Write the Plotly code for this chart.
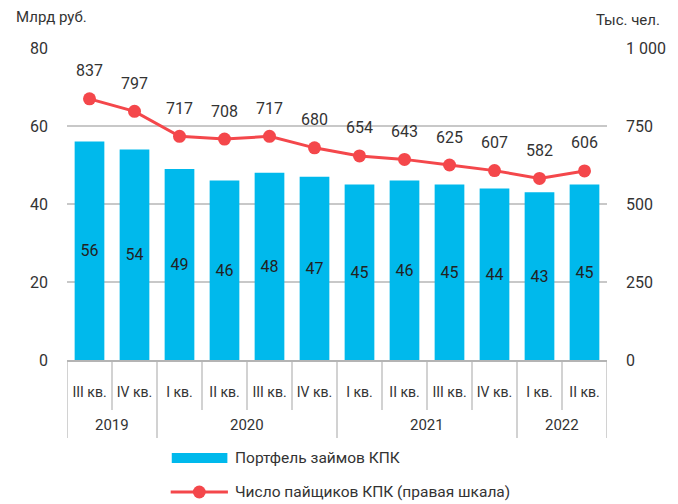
import plotly.graph_objects as go

# Quarterly data on credit consumer cooperatives (КПК)
years = ["2019", "2019", "2020", "2020", "2020", "2020",
         "2021", "2021", "2021", "2021", "2022", "2022"]
quarters = ["III кв.", "IV кв.", "I кв.", "II кв.", "III кв.", "IV кв.",
            "I кв.", "II кв.", "III кв.", "IV кв.", "I кв.", "II кв."]
loan_portfolio = [56, 54, 49, 46, 48, 47, 45, 46, 45, 44, 43, 45]          # bn rub
members = [837, 797, 717, 708, 717, 680, 654, 643, 625, 607, 582, 606]     # thousand people

left_ticks = [0, 20, 40, 60, 80]
right_ticks = [0, 250, 500, 750, 1000]
right_tick_text = ["0", "250", "500", "750", "1 000"]

BAR_COLOR = "#00B9EC"
LINE_COLOR = "#F4474B"
TEXT_COLOR = "#333333"
GRID_COLOR = "#C8C8C8"
AXIS_COLOR = "#B4B4B4"
FONT = "Roboto"

pos = list(range(len(quarters)))

fig = go.Figure()

fig.add_trace(go.Bar(
    x=pos, y=loan_portfolio,
    marker=dict(color=BAR_COLOR, line=dict(width=0)),
    text=[str(v) for v in loan_portfolio],
    textposition="inside", insidetextanchor="middle",
    textfont=dict(size=16, color="#222222", family=FONT),
    name="Портфель займов КПК",
))

fig.add_trace(go.Scatter(
    x=pos, y=members, yaxis="y2",
    mode="lines+markers",
    line=dict(color=LINE_COLOR, width=3),
    marker=dict(color=LINE_COLOR, size=13),
    name="Число пайщиков КПК (правая шкала)",
))

# value labels above the line points
for p, v in zip(pos, members):
    fig.add_annotation(
        x=p, y=v, yref="y2", text=str(v), showarrow=False,
        yshift=28, font=dict(size=16, color=TEXT_COLOR, family=FONT),
    )

# two-level category axis: quarter separators and year groups
Y_AXIS = 0
Y_QTR_SEP = -0.160
Y_YEAR_SEP = -0.250
groups = []
for i, yr in enumerate(years):
    if not groups or groups[-1][0] != yr:
        groups.append([yr, i, i])
    else:
        groups[-1][2] = i

for yr, start, end in groups:
    fig.add_shape(type="line", xref="x", yref="paper",
                  x0=start - 0.5, x1=start - 0.5, y0=Y_AXIS, y1=Y_YEAR_SEP,
                  line=dict(color=AXIS_COLOR, width=1.2))
    for i in range(start + 1, end + 1):
        fig.add_shape(type="line", xref="x", yref="paper",
                      x0=i - 0.5, x1=i - 0.5, y0=Y_AXIS, y1=Y_QTR_SEP,
                      line=dict(color=AXIS_COLOR, width=1.2))
    fig.add_annotation(x=(start + end) / 2, y=-0.208, xref="x", yref="paper",
                       text=yr, showarrow=False, yanchor="middle",
                       font=dict(size=15, color=TEXT_COLOR, family=FONT))
fig.add_shape(type="line", xref="x", yref="paper",
              x0=len(pos) - 0.5, x1=len(pos) - 0.5, y0=Y_AXIS, y1=Y_YEAR_SEP,
              line=dict(color=AXIS_COLOR, width=1.2))

# axis titles
fig.add_annotation(x=-0.099, y=1.099, xref="paper", yref="paper", text="Млрд руб.",
                   showarrow=False, xanchor="left", yanchor="middle",
                   font=dict(size=15, color=TEXT_COLOR, family=FONT))
fig.add_annotation(x=1.101, y=1.09, xref="paper", yref="paper", text="Тыс. чел.",
                   showarrow=False, xanchor="right", yanchor="middle",
                   font=dict(size=15, color=TEXT_COLOR, family=FONT))

# legend below the axis
fig.add_shape(type="rect", xref="paper", yref="paper",
              x0=0.194, x1=0.297, y0=-0.330, y1=-0.298,
              fillcolor=BAR_COLOR, line=dict(width=0))
fig.add_annotation(x=0.307, y=-0.314, xref="paper", yref="paper",
                   text="Портфель займов КПК", showarrow=False,
                   xanchor="left", yanchor="middle",
                   font=dict(size=15.5, color=TEXT_COLOR, family=FONT))
fig.add_shape(type="line", xref="paper", yref="paper",
              x0=0.192, x1=0.298, y0=-0.423, y1=-0.423,
              line=dict(color=LINE_COLOR, width=3))
fig.add_shape(type="circle", xref="paper", yref="paper",
              x0=0.245 - 6.5 / 546, x1=0.245 + 6.5 / 546,
              y0=-0.423 - 6.5 / 312, y1=-0.423 + 6.5 / 312,
              fillcolor=LINE_COLOR, line=dict(width=0))
fig.add_annotation(x=0.307, y=-0.423, xref="paper", yref="paper",
                   text="Число пайщиков КПК (правая шкала)", showarrow=False,
                   xanchor="left", yanchor="middle",
                   font=dict(size=15.5, color=TEXT_COLOR, family=FONT))

fig.update_layout(
    width=678, height=504,
    margin=dict(l=67, r=65, t=48, b=144),
    paper_bgcolor="white", plot_bgcolor="white",
    font=dict(family=FONT, size=14, color=TEXT_COLOR),
    bargap=0.34,
    showlegend=False,
    xaxis=dict(
        range=[-0.5, len(pos) - 0.5],
        tickvals=pos, ticktext=quarters, tickangle=0,
        showline=True, linecolor=AXIS_COLOR, linewidth=1.5,
        ticks="", ticklabelstandoff=18,
        tickfont=dict(size=14, color=TEXT_COLOR, family=FONT),
        showgrid=False, zeroline=False,
    ),
    yaxis=dict(
        range=[0, 80], tickvals=left_ticks,
        showgrid=True, gridcolor=GRID_COLOR, gridwidth=1.5,
        zeroline=False, showline=False,
        ticks="", ticklabelstandoff=18,
        tickfont=dict(size=16, color=TEXT_COLOR, family=FONT),
    ),
    yaxis2=dict(
        overlaying="y", side="right",
        range=[0, 1000], tickvals=right_ticks, ticktext=right_tick_text,
        showgrid=False, zeroline=False, showline=False,
        ticks="", ticklabelstandoff=18,
        tickfont=dict(size=16, color=TEXT_COLOR, family=FONT),
    ),
)

fig.write_html("out.html")
